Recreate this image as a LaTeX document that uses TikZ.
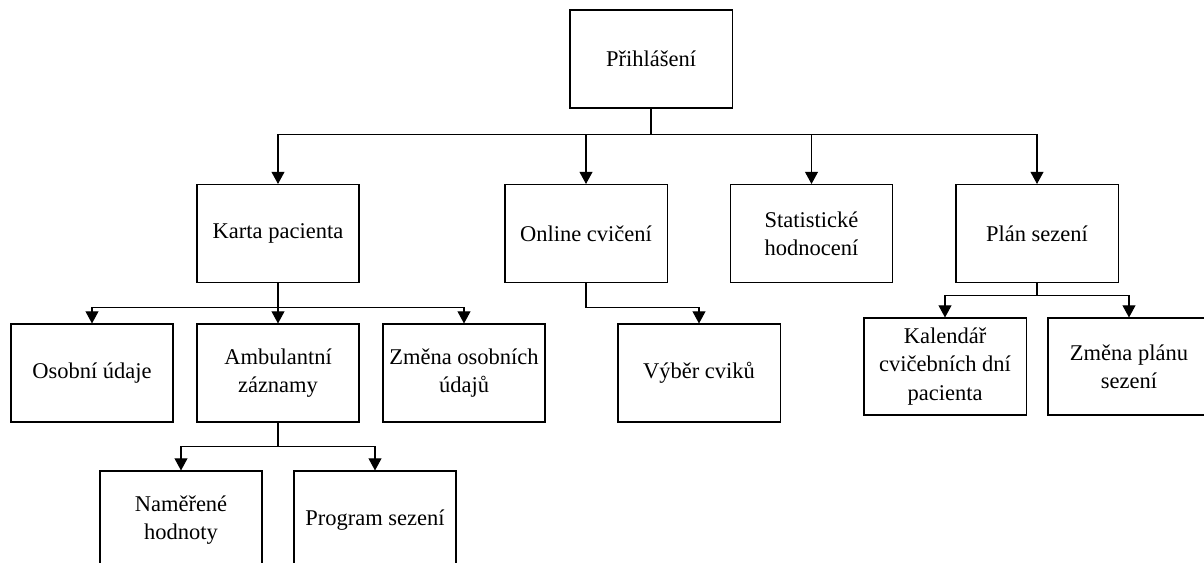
\documentclass[tikz,border=0pt]{standalone}
\usepackage{fontspec}
\setmainfont{Liberation Serif}
\usetikzlibrary{arrows.meta, positioning, calc}

\tikzset{
  box/.style={draw, minimum width=4.05cm, minimum height=2.45cm, inner sep=0pt,
    align=center, font=\fontsize{16}{20}\selectfont},
  arr/.style={-{Triangle[length=0.3cm, width=0.32cm]}}
}

\begin{document}
\begin{tikzpicture}[x=0.025cm, y=-0.025cm, line width=0.75pt]
      \clip (0,0) rectangle (1204,562);

      \node[box] (prihl) at (651,59) {Přihlášení};

      \node[box] (karta) at (278,233.5) {Karta pacienta};
      \node[box] (online) at (586,233.5) {Online cvičení};
      \node[box] (stat) at (811.5,233.5) {Statistické\\hodnocení};
      \node[box] (plan) at (1037,233.5) {Plán sezení};

      \node[box] (osobni) at (92,373) {Osobní údaje};
      \node[box] (ambul) at (278,373) {Ambulantní\\záznamy};
      \node[box] (zmenaos) at (464,373) {Změna osobních\\údajů};
      \node[box] (vyber) at (699,373) {Výběr cviků};

      \node[box, minimum height=2.425cm] (kalendar) at (945,366.5) {Kalendář\\cvičebních dní\\pacienta};
      \node[box, minimum height=2.425cm] (zmenaplan) at (1129,366.5) {Změna plánu\\sezení};

      \node[box] (namerene) at (181,520) {Naměřené\\hodnoty};
      \node[box] (program) at (375,520) {Program sezení};

      % level 1
      \draw[arr] (prihl.south) -- ++(0,26) -| (karta.north);
      \draw[arr] (prihl.south) -- ++(0,26) -| (online.north);
      \draw[arr] (prihl.south) -- ++(0,26) -| (stat.north);
      \draw[arr] (prihl.south) -- ++(0,26) -| (plan.north);

      % level 2
      \draw[arr] (karta.south) -- ++(0,24) -| (osobni.north);
      \draw[arr] (karta.south) -- (ambul.north);
      \draw[arr] (karta.south) -- ++(0,24) -| (zmenaos.north);
      \draw[arr] (online.south) -- ++(0,24) -| (vyber.north);
      \draw[arr] (plan.south) -- ++(0,12) -| (kalendar.north);
      \draw[arr] (plan.south) -- ++(0,12) -| (zmenaplan.north);

      % level 3
      \draw[arr] (ambul.south) -- ++(0,24) -| (namerene.north);
      \draw[arr] (ambul.south) -- ++(0,24) -| (program.north);
\end{tikzpicture}
\end{document}
